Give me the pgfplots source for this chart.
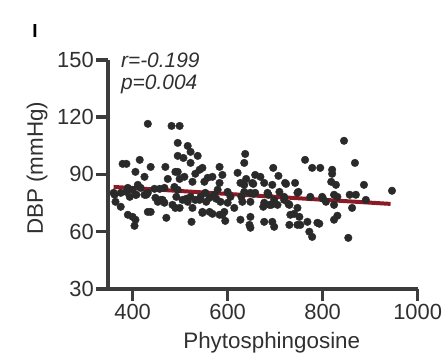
\documentclass[border=0pt]{standalone}
\usepackage{pgfplots}
\pgfplotsset{compat=1.18}
\usepackage{pgfplotstable}
\usepackage{fontspec}
\setmainfont{Liberation Sans}
\definecolor{dotc}{HTML}{2A2A2A}
\definecolor{axc}{HTML}{3C3C3C}
\definecolor{txc}{HTML}{303030}
\definecolor{regc}{RGB}{139,26,36}
\pgfplotstableread{
x y
432 116.5
482 115.4
499 115.4
495 106.5
516 104.9
522 101.8
495 99.7
507 98.6
522 96.0
537 99.7
547 93.4
379 95.5
387 95.5
415 97.6
438 93.9
469 93.9
406 91.3
425 88.7
495 91.3
474 87.6
499 87.6
509 88.7
526 86.1
532 90.3
558 88.2
551 86.1
568 88.7
360 80.3
375 80.3
390 82.9
400 81.9
411 84.5
417 82.9
406 79.3
394 78.2
425 79.3
432 80.3
446 82.4
457 82.4
467 82.9
488 83.4
495 81.9
448 77.7
459 76.6
467 75.1
453 75.6
484 74.0
490 72.4
499 72.4
505 76.6
516 75.6
522 78.2
532 76.6
543 78.2
553 80.3
562 77.7
572 79.3
526 72.4
547 70.3
562 70.3
364 75.6
375 73.0
390 68.8
400 67.7
406 66.2
404 63.0
432 70.3
438 70.3
471 67.2
524 65.1
362 79.3
387 80.8
408 79.3
429 79.3
463 76.6
492 78.2
513 77.2
541 76.6
555 75.6
576 77.2
547 69.8
568 69.3
583 68.8
490 91.3
541 92.4
637 100.7
635 96.0
583 93.9
589 89.7
621 90.8
627 85.5
639 87.6
652 85.5
658 89.7
669 88.7
677 85.5
696 93.4
707 89.2
694 84.5
721 85.5
742 85.5
763 97.6
778 93.4
795 93.4
583 85.5
579 81.9
600 80.8
606 78.2
635 80.8
648 80.3
658 80.3
684 80.3
709 80.8
719 78.2
747 80.3
774 78.2
799 78.2
585 75.6
600 75.1
614 72.4
631 75.6
648 75.6
677 75.1
688 74.0
698 76.6
705 74.0
719 76.6
730 74.0
747 72.4
593 70.3
589 68.8
595 65.6
627 66.2
648 67.7
646 63.5
648 62.0
677 65.1
694 65.1
698 62.5
730 63.5
732 68.8
751 67.7
747 63.5
768 65.1
789 64.6
772 59.9
778 57.2
753 63.5
801 77.2
807 75.6
749 80.8
686 79.3
654 79.8
692 74.0
675 73.0
728 74.5
740 69.3
629 78.2
723 85.0
654 85.0
635 84.5
793 64.1
845 107.6
868 96.0
820 92.4
820 90.3
818 86.1
828 84.5
887 84.5
946 81.4
824 79.3
831 78.2
824 74.0
857 79.3
870 79.3
891 76.6
862 72.4
831 68.3
824 66.2
854 56.7
}\dbp
\pgfplotstableread{
x y
360 83.4
943 74.5
}\reg
\begin{document}
\begin{tikzpicture}[x=1bp,y=1bp]
\begin{axis}[
  at={(0,0)}, anchor=south west,
  scale only axis, width=310bp, height=229bp,
  xmin=348, xmax=1000, ymin=30, ymax=150,
  xtick={400,600,800,1000}, ytick={30,60,90,120,150},
  axis x line*=bottom, axis y line*=left,
  axis line style={-, line width=3.5bp, color=axc},
  tick style={line width=3.5bp, color=axc},
  tick align=outside, major tick length=12bp,
  ticklabel style={font=\fontsize{22}{24}\selectfont, text=txc},
  /pgf/number format/assume math mode=true,
  /pgf/number format/set thousands separator={},
  xticklabel style={inner sep=2bp, yshift=-1bp},
  yticklabel style={inner sep=2bp},
  xlabel={Phytosphingosine},
  ylabel={DBP (mmHg)},
  label style={font=\fontsize{22.5}{24}\selectfont, text=txc},
  xlabel style={at={(axis description cs:0.529,-0.262)}, anchor=base},
  ylabel style={at={(axis description cs:-0.21,0.526)}, anchor=base},
  clip=false,
]
\addplot[only marks, mark=*, mark size=3.8bp, color=dotc, mark options={draw=none, fill=dotc}] table[x=x,y=y] {\dbp};
\addplot[no marks, line width=4bp, color=regc] table[x=x,y=y] {\reg};
\node[anchor=base west, font=\fontsize{21}{22}\selectfont\itshape, text=txc, inner sep=0pt] at (rel axis cs:0.042,0.965) {r=-0.199};
\node[anchor=base west, font=\fontsize{21}{22}\selectfont\itshape, text=txc, inner sep=0pt] at (rel axis cs:0.042,0.869) {p=0.004};
\node[font=\fontsize{19}{20}\selectfont\bfseries, inner sep=0pt] at (rel axis cs:-0.235,1.127) {I};
\end{axis}
\path[use as bounding box] (-108bp,-75bp) rectangle (336bp,289bp);
\end{tikzpicture}
\end{document}
